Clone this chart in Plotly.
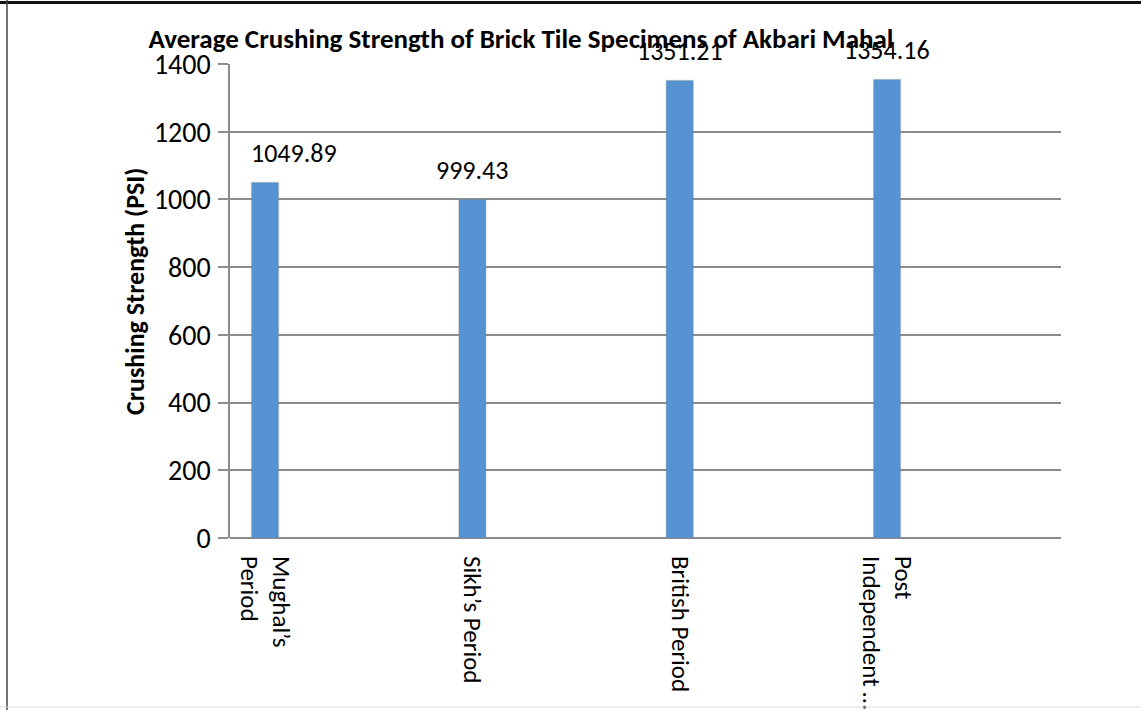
import plotly.graph_objects as go

categories = ["Mughal\u2019s<br>Period", "Sikh\u2019s Period", "British Period", "Post<br>Independent \u2026"]
strength = [1049.89, 999.43, 1351.21, 1354.16]
labels = ["1049.89", "999.43", "1351.21", "1354.16"]
yticks = [0, 200, 400, 600, 800, 1000, 1200, 1400]

W, H = 1141, 710
L, R, T, B = 230, 80, 64, 172
pw, ph = W - L - R, H - T - B

FONT = "Calibri, Carlito, Lato, sans-serif"
GRID = "#8c8c8c"

fig = go.Figure()
fig.add_trace(go.Bar(
    x=categories, y=strength,
    width=0.13,
    marker=dict(color="#5593d3", line=dict(color="rgba(120,120,120,0.25)", width=1.5)),
    hoverinfo="x+y",
))

for i, (c, v, t) in enumerate(zip(categories, strength, labels)):
    fig.add_annotation(x=c, y=v, text=t, showarrow=False, yanchor="bottom",
                       xanchor="left" if i == 0 else "center",
                       xshift=-16 if i == 0 else 0,
                       yshift=12, font=dict(family=FONT, size=26, color="#000"))

def px2x(px):
    return (px - L) / pw

def py2y(py):
    return (H - B - py) / ph

# outer frame
fig.add_shape(type="line", xref="paper", yref="paper", x0=px2x(0), x1=px2x(W),
              y0=py2y(2.5), y1=py2y(2.5), line=dict(color="#111", width=3))
fig.add_shape(type="line", xref="paper", yref="paper", x0=px2x(7), x1=px2x(7),
              y0=py2y(0), y1=py2y(H), line=dict(color="#444", width=1.5))
fig.add_shape(type="line", xref="paper", yref="paper", x0=px2x(0), x1=px2x(W),
              y0=py2y(707), y1=py2y(707), line=dict(color="#dddddd", width=1))

fig.update_layout(
    width=W, height=H,
    margin=dict(l=L, r=R, t=T, b=B, autoexpand=False),
    paper_bgcolor="white", plot_bgcolor="white",
    showlegend=False,
    font=dict(family=FONT, size=28, color="#000"),
    title=dict(text="<b>Average Crushing Strength of Brick Tile Specimens of Akbari Mahal</b>",
               x=521 / W, xanchor="center", y=1 - 39 / H, yanchor="middle",
               font=dict(family=FONT, size=27, color="#000")),
    xaxis=dict(type="category", range=[-0.169, 3.839], showgrid=False,
               showline=False, ticks="", tickangle=90,
               tickfont=dict(family=FONT, size=25), ticklabelstandoff=17),
    yaxis=dict(range=[0, 1400], tickvals=yticks, showgrid=True, gridcolor=GRID, gridwidth=1.5,
               showline=True, linecolor=GRID, linewidth=1.5, ticks="outside", ticklen=10,
               tickcolor=GRID, tickwidth=1.5, zeroline=True, zerolinecolor=GRID, zerolinewidth=1.5,
               tickfont=dict(family=FONT, size=28), ticklabelstandoff=2),
)

fig.add_annotation(xref="paper", yref="paper", x=px2x(135), y=py2y(292),
                   xanchor="center", yanchor="middle",
                   text="<b>Crushing Strength (PSI)</b>", textangle=-90, showarrow=False,
                   font=dict(family=FONT, size=26, color="#000"))

fig.write_html("out.html")
